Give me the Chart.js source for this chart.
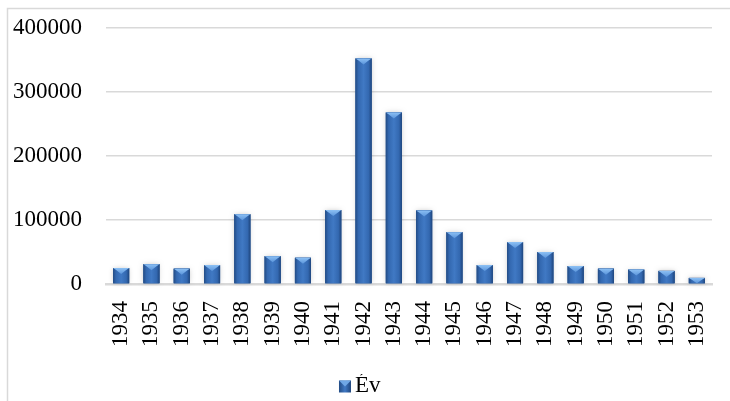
<!DOCTYPE html>
<html>
<head>
<meta charset="utf-8">
<script src="https://cdn.jsdelivr.net/npm/chart.js@4"></script>
<style>
html,body{margin:0;padding:0;background:#fff;}
#wrap{position:relative;width:730px;height:401px;}
</style>
</head>
<body>
<div id="wrap"><canvas id="c" width="730" height="401"></canvas></div>
<script>
const categories = ['1934','1935','1936','1937','1938','1939','1940','1941','1942','1943','1944','1945','1946','1947','1948','1949','1950','1951','1952','1953'];
const seriesName = 'Év';
const values = [25000,31000,24000,29500,109000,43500,41000,115500,352500,268000,115000,81000,29500,65500,50000,28000,24000,22500,20500,9500];
const yTicks = [0,100000,200000,300000,400000];

const FONT = "'Liberation Serif', 'DejaVu Serif', serif";
const FS = 23;

const framePlugin = {
  id: 'frame',
  beforeDraw(chart) {
    const ctx = chart.ctx;
    ctx.save();
    ctx.fillStyle = '#fff';
    ctx.fillRect(0, 0, chart.width, chart.height);
    ctx.strokeStyle = '#d9d9d9';
    ctx.lineWidth = 1.5;
    ctx.beginPath();
    ctx.moveTo(7.5, chart.height + 2);
    ctx.lineTo(7.5, 8.5);
    ctx.lineTo(chart.width + 2, 8.5);
    ctx.stroke();
    ctx.restore();
  }
};

function shadeBar(ctx, x, top, w, base) {
  const l = x - w / 2, r = x + w / 2;
  const g = ctx.createLinearGradient(l, 0, r, 0);
  g.addColorStop(0, '#234c85');
  g.addColorStop(0.18, '#3368b0');
  g.addColorStop(0.5, '#4079c4');
  g.addColorStop(0.82, '#3368b0');
  g.addColorStop(1, '#1f467e');
  ctx.fillStyle = g;
  ctx.fillRect(l, top, w, base - top);
  const th = Math.min(6, (base - top));
  const tg = ctx.createLinearGradient(0, top, 0, top + th);
  tg.addColorStop(0, '#8cc0f4');
  tg.addColorStop(1, '#5b95db');
  ctx.fillStyle = tg;
  ctx.beginPath();
  ctx.moveTo(l, top);
  ctx.lineTo(r, top);
  ctx.lineTo(r - Math.min(3, w / 4), top + th * 0.35);
  ctx.lineTo(x, top + th);
  ctx.lineTo(l + Math.min(3, w / 4), top + th * 0.35);
  ctx.closePath();
  ctx.fill();
}

const barStylePlugin = {
  id: 'barStyle',
  afterDatasetsDraw(chart) {
    const ctx = chart.ctx;
    const meta = chart.getDatasetMeta(0);
    ctx.save();
    meta.data.forEach(bar => {
      const p = bar.getProps(['x', 'y', 'width', 'base'], true);
      ctx.shadowColor = 'rgba(0,0,0,0.22)';
      ctx.shadowBlur = 5;
      ctx.fillStyle = '#2c5d9f';
      ctx.fillRect(p.x - p.width / 2, p.y, p.width, p.base - p.y);
      ctx.shadowColor = 'transparent';
      ctx.shadowBlur = 0;
      shadeBar(ctx, p.x, p.y, p.width, p.base);
    });
    ctx.restore();
  }
};

const legendBoxPlugin = {
  id: 'legendBox',
  afterDraw(chart) {
    const lg = chart.legend;
    if (!lg || !lg.legendHitBoxes || !lg.legendHitBoxes.length) return;
    const hb = lg.legendHitBoxes[0];
    const ctx = chart.ctx;
    ctx.save();
    const s = 12;
    const textX = hb.left + 12 + FS / 2;
    const bx = textX - 16, by = hb.top + (hb.height - s) / 2 + 1;
    const g = ctx.createLinearGradient(bx, 0, bx + s, 0);
    g.addColorStop(0, '#234c85');
    g.addColorStop(0.5, '#4079c4');
    g.addColorStop(1, '#1f467e');
    ctx.fillStyle = g;
    ctx.fillRect(bx, by, s, s);
    ctx.fillStyle = '#6fa7e6';
    ctx.beginPath();
    ctx.moveTo(bx, by);
    ctx.lineTo(bx + s, by);
    ctx.lineTo(bx + s / 2, by + 6);
    ctx.closePath();
    ctx.fill();
    ctx.restore();
  }
};

new Chart(document.getElementById('c'), {
  type: 'bar',
  data: {
    labels: categories,
    datasets: [{
      label: seriesName,
      data: values,
      backgroundColor: '#2c5d9f',
      borderWidth: 0,
      categoryPercentage: 0.53,
      barPercentage: 1.0
    }]
  },
  options: {
    responsive: false,
    animation: false,
    devicePixelRatio: 1,
    layout: { padding: { top: 28, right: 18, left: 0, bottom: -6 } },
    plugins: {
      legend: {
        display: true,
        position: 'bottom',
        align: 'center',
        labels: {
          boxWidth: 12,
          boxHeight: 12,
          color: '#000',
          font: { family: FONT, size: FS },
          padding: 0,
          generateLabels(chart) {
            return [{
              text: chart.data.datasets[0].label,
              fillStyle: 'rgba(0,0,0,0)',
              strokeStyle: 'rgba(0,0,0,0)',
              lineWidth: 0,
              datasetIndex: 0,
              hidden: false
            }];
          }
        }
      },
      tooltip: { enabled: false }
    },
    scales: {
      x: {
        grid: { display: false, drawTicks: false },
        border: { display: true, color: '#d9d9d9', width: 2.5 },
        ticks: {
          color: '#000',
          font: { family: FONT, size: FS },
          minRotation: 90,
          maxRotation: 90,
          padding: 17,
          autoSkip: false
        },
        afterFit(scale) { scale.height = 90; scale.paddingLeft = 0; scale.paddingRight = 0; }
      },
      y: {
        min: 0,
        max: 400000,
        grid: { color: '#d9d9d9', lineWidth: 1.5, drawTicks: false },
        border: { display: false },
        afterBuildTicks(scale) { scale.ticks = yTicks.map(v => ({ value: v })); },
        ticks: {
          color: '#000',
          font: { family: FONT, size: FS },
          padding: 24,
          callback: v => String(v)
        },
        afterFit(scale) { scale.width = 106; scale.paddingTop = 0; scale.paddingBottom = 0; }
      }
    }
  },
  plugins: [framePlugin, barStylePlugin, legendBoxPlugin]
});
</script>
</body>
</html>
